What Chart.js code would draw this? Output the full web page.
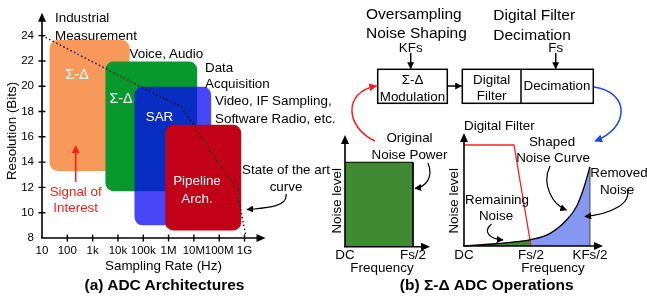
<!DOCTYPE html>
<html>
<head>
<meta charset="utf-8">
<script src="https://cdn.jsdelivr.net/npm/chart.js@4/dist/chart.umd.min.js"></script>
<style>
body { margin: 0; background: #fff; }
#wrap { position: relative; width: 647px; height: 298px; overflow: hidden; }
canvas { position: absolute; }
svg { position: absolute; left: 0; top: 0; font-family: "Liberation Sans", Arial, sans-serif; }
</style>
</head>
<body>
<div id="wrap">
<canvas id="archChart" width="330" height="298" style="left:0;top:0"></canvas>
<canvas id="flatChart" width="110" height="178" style="left:330px;top:120px"></canvas>
<canvas id="shapedChart" width="202" height="178" style="left:445px;top:120px"></canvas>
<svg width="647" height="298">
  <defs>
    <marker id="hk" viewBox="0 0 10 10" refX="9" refY="5" markerUnits="userSpaceOnUse" markerWidth="7" markerHeight="7" orient="auto"><path d="M0,0 L10,5 L0,10 z" fill="#000"/></marker>
    <marker id="hr" viewBox="0 0 10 10" refX="9" refY="5" markerUnits="userSpaceOnUse" markerWidth="8" markerHeight="8" orient="auto"><path d="M0,0 L10,5 L0,10 z" fill="#ff1a1a"/></marker>
    <marker id="hb" viewBox="0 0 10 10" refX="9" refY="5" markerUnits="userSpaceOnUse" markerWidth="8" markerHeight="8" orient="auto"><path d="M0,0 L10,5 L0,10 z" fill="#1a44ff"/></marker>
  </defs>
  <g font-size="13.4" dominant-baseline="central" fill="#000">
    <!-- (a) labels -->
    <text x="55" y="17">Industrial</text>
    <text x="55" y="35">Measurement</text>
    <text x="129.5" y="53">Voice, Audio</text>
    <text x="205" y="67">Data</text>
    <text x="205" y="83.5">Acquisition</text>
    <text x="215" y="100.5">Video, IF Sampling,</text>
    <text x="215" y="118">Software Radio, etc.</text>
    <text x="286" y="169" text-anchor="middle">State of the art</text>
    <text x="286" y="186" text-anchor="middle">curve</text>
    <text x="77" y="73.5" text-anchor="middle" fill="#fff" font-size="14.5">Σ-Δ</text>
    <text x="121" y="98" text-anchor="middle" fill="#fff" font-size="14.5">Σ-Δ</text>
    <text x="159.5" y="116" text-anchor="middle" fill="#fff">SAR</text>
    <text x="197" y="180" text-anchor="middle" fill="#fff">Pipeline</text>
    <text x="197" y="198" text-anchor="middle" fill="#fff">Arch.</text>
    <text x="75.7" y="191.7" text-anchor="middle" fill="#ff1a1a">Signal of</text>
    <text x="75.7" y="207.5" text-anchor="middle" fill="#ff1a1a">Interest</text>
    <text x="164.5" y="284" text-anchor="middle" font-weight="bold" font-size="15.5">(a) ADC Architectures</text>
    <!-- (b) labels -->
    <text x="366" y="13.5" font-size="15.5">Oversampling</text>
    <text x="366" y="32.5" font-size="15.5">Noise Shaping</text>
    <text x="493.3" y="14" font-size="15.5">Digital Filter</text>
    <text x="493.3" y="34" font-size="15.5">Decimation</text>
    <text x="410.7" y="47" text-anchor="middle">KFs</text>
    <text x="555.7" y="47" text-anchor="middle">Fs</text>
    <text x="412.5" y="79" text-anchor="middle">Σ-Δ</text>
    <text x="412.5" y="96" text-anchor="middle">Modulation</text>
    <text x="491.7" y="79" text-anchor="middle">Digital</text>
    <text x="491.7" y="95.5" text-anchor="middle">Filter</text>
    <text x="557" y="85" text-anchor="middle">Decimation</text>
    <text x="409.5" y="137" text-anchor="middle">Original</text>
    <text x="409.5" y="154.3" text-anchor="middle">Noise Power</text>
    <text x="464" y="125">Digital Filter</text>
    <text x="552" y="141" text-anchor="middle">Shaped</text>
    <text x="553" y="157" text-anchor="middle">Noise Curve</text>
    <text x="619" y="172" text-anchor="middle">Removed</text>
    <text x="617" y="189" text-anchor="middle">Noise</text>
    <text x="497" y="199" text-anchor="middle">Remaining</text>
    <text x="496" y="215" text-anchor="middle">Noise</text>
    <text x="486.7" y="284" text-anchor="middle" font-weight="bold" font-size="15.5">(b) Σ-Δ ADC Operations</text>
  </g>
  <g fill="none" stroke="#000" stroke-width="1.5">
    <rect x="377.7" y="69.3" width="69.6" height="34" fill="#fff"/>
    <rect x="462.3" y="69.3" width="131" height="34" fill="#fff"/>
    <line x1="521" y1="69.3" x2="521" y2="103.3"/>
  </g>
  <!-- redraw block texts over the boxes -->
  <g font-size="13.4" dominant-baseline="central" fill="#000" text-anchor="middle">
    <text x="412.5" y="79">Σ-Δ</text>
    <text x="412.5" y="96">Modulation</text>
    <text x="491.7" y="79">Digital</text>
    <text x="491.7" y="95.5">Filter</text>
    <text x="557" y="85">Decimation</text>
  </g>
  <g fill="none" stroke="#000" stroke-width="1.5">
    <path d="M447.5,86 L461.5,86" marker-end="url(#hk)"/>
    <path d="M410.7,53 L410.7,68.5" marker-end="url(#hk)"/>
    <path d="M555.7,53 L555.7,68.5" marker-end="url(#hk)"/>
    <path d="M375,141 C346,128 342,92 376.5,86" stroke="#ff1a1a" marker-end="url(#hr)"/>
    <path d="M594,87 C630,92 630,128 595,141" stroke="#1a44ff" marker-end="url(#hb)"/>
    <path d="M75.7,182 L75.7,146" stroke="#ff1a1a" marker-end="url(#hr)"/>
    <path d="M286,194 C288,206 270,208 247,209.5" stroke-width="1.2" marker-end="url(#hk)"/>
    <path d="M428,163 C434,178 425,187 415,188.5" stroke-width="1.2" marker-end="url(#hk)"/>
    <path d="M550,166 C541,185 553,205 566.5,210" stroke-width="1.2" marker-end="url(#hk)"/>
    <path d="M627,189 C632,203 612,214 585,216.5" stroke-width="1.2" marker-end="url(#hk)"/>
    <path d="M491.5,224 C482,232 490,239 503,240" stroke-width="1.2" marker-end="url(#hk)"/>
  </g>
</svg>
</div>
<script>
// (a) ADC architectures: sampling-rate range (Hz) and resolution range (bits)
const archNames = ['Sigma-Delta (low rate)', 'Sigma-Delta', 'SAR', 'Pipeline'];
const archRateLo = [20, 3.2e3, 45e3, 740e3];
const archRateHi = [29e3, 13.5e6, 48e6, 740e6];
const archBitsLo = [13.3, 11.7, 9.0, 8.6];
const archBitsHi = [23.65, 21.95, 19.95, 16.95];
const archColors = ['#f8985a', '#07992b', 'rgba(10,10,245,0.75)', '#c20018'];

// state of the art curve
const sotaRate = [10, 1.05e5, 3.4e6, 48e6, 480e6, 1.1e9];
const sotaBits = [24, 19.83, 18.33, 14.82, 11.93, 8.3];

const rateTicks = [10, 100, 1e3, 1e4, 1e5, 1e6, 1e7, 1e8, 1e9];
const rateTickLabels = ['10', '100', '1k', '10k', '100k', '1M', '10M', '100M', '1G'];
const bitsTicks = [8, 10, 12, 14, 16, 18, 20, 22, 24];

// (b) original flat noise (DC .. Fs/2)
const flatFreq = [0, 1, 1];
const flatLevel = [0.756, 0.756, 0];
const flatTicks = [0, 1];
const flatTickLabels = ['DC', 'Fs/2'];

// (b) shaped noise and digital filter (frequency in units of Fs/2)
const noiseFreq = [0, 0.5, 1.0, 1.28, 1.53, 1.68, 1.78, 1.88];
const noiseLevel = [0, 0.022, 0.057, 0.11, 0.23, 0.35, 0.5, 0.7];
const filterFreq = [0, 0.746, 1.0];
const filterGain = [0.894, 0.894, 0];
const shapedTicks = [0, 1, 1.88];
const shapedTickLabels = ['DC', 'Fs/2', 'KFs/2'];

Chart.defaults.color = '#000';
Chart.defaults.font.family = '"Liberation Sans", Arial, sans-serif';

const pts = (xs, ys) => xs.map((v, i) => ({x: v, y: ys[i]}));

const arrowAxes = {
  id: 'arrowAxes',
  afterDatasetsDraw(chart, args, opts) {
    const {ctx, chartArea: a, scales: {x, y}} = chart;
    const x0 = a.left, y0 = a.bottom;
    const xe = x.getPixelForValue(opts.xEnd);
    const ye = y.getPixelForValue(opts.yEnd);
    ctx.save();
    ctx.strokeStyle = '#000';
    ctx.fillStyle = '#000';
    ctx.lineWidth = 1.6;
    ctx.beginPath();
    ctx.moveTo(x0 - 1, y0); ctx.lineTo(xe - 6, y0);
    ctx.moveTo(x0, y0); ctx.lineTo(x0, ye + 6);
    ctx.stroke();
    ctx.beginPath();
    ctx.moveTo(xe, y0); ctx.lineTo(xe - 9, y0 - 4); ctx.lineTo(xe - 9, y0 + 4); ctx.closePath();
    ctx.moveTo(x0, ye); ctx.lineTo(x0 - 4, ye + 9); ctx.lineTo(x0 + 4, ye + 9); ctx.closePath();
    ctx.fill();
    if (opts.crossTicks) {
      ctx.lineWidth = 1.4;
      ctx.beginPath();
      x.ticks.forEach((t, i) => {
        if (i === 0) return;
        const p = x.getPixelForValue(t.value);
        ctx.moveTo(p, y0 - 3.5); ctx.lineTo(p, y0 + 3.5);
      });
      y.ticks.forEach((t, i) => {
        if (i === 0) return;
        const p = y.getPixelForValue(t.value);
        ctx.moveTo(x0 - 3.5, p); ctx.lineTo(x0 + 3.5, p);
      });
      ctx.stroke();
    }
    ctx.restore();
  }
};

const archBoxes = {
  id: 'archBoxes',
  beforeDatasetsDraw(chart) {
    const {ctx, scales: {x, y}} = chart;
    ctx.save();
    archNames.forEach((n, i) => {
      const l = x.getPixelForValue(archRateLo[i]);
      const r = x.getPixelForValue(archRateHi[i]);
      const t = y.getPixelForValue(archBitsHi[i]);
      const b = y.getPixelForValue(archBitsLo[i]);
      ctx.fillStyle = archColors[i];
      ctx.beginPath();
      ctx.roundRect(l, t, r - l, b - t, 8);
      ctx.fill();
    });
    ctx.restore();
  }
};

new Chart(document.getElementById('archChart'), {
  type: 'line',
  data: {
    datasets: [{
      label: 'State of the art',
      data: pts(sotaRate, sotaBits),
      borderColor: '#000',
      borderWidth: 1.3,
      borderDash: [1.5, 2.5],
      pointRadius: 0,
      fill: false,
      tension: 0,
      clip: false
    }]
  },
  options: {
    animation: false,
    responsive: false,
    devicePixelRatio: 1,
    layout: {padding: {top: 24, right: 45, left: 0, bottom: 0}},
    plugins: {
      legend: {display: false},
      tooltip: {enabled: false},
      arrowAxes: {xEnd: Math.pow(10, 9.83), yEnd: 25.8, crossTicks: true}
    },
    scales: {
      x: {
        type: 'logarithmic',
        min: 10,
        max: Math.pow(10, 10.6),
        grid: {display: false, drawTicks: false},
        border: {display: false},
        afterBuildTicks: s => { s.ticks = rateTicks.map(v => ({value: v})); },
        afterFit: s => { s.height = 60; },
        ticks: {autoSkip: false, maxRotation: 0, padding: 6, font: {size: 11.5},
          callback: (v, i) => rateTickLabels[i]},
        title: {display: true, text: 'Sampling Rate (Hz)', font: {size: 13.4}, padding: {top: 0, bottom: 24}}
      },
      y: {
        type: 'linear',
        min: 8,
        max: 24.92,
        grid: {display: false, drawTicks: false},
        border: {display: false},
        afterBuildTicks: s => { s.ticks = bitsTicks.map(v => ({value: v})); },
        afterFit: s => { s.width = 42; },
        ticks: {padding: 8, font: {size: 11.5}},
        title: {display: true, text: 'Resolution (Bits)', font: {size: 13.4}, padding: {top: 4, bottom: 0}}
      }
    }
  },
  plugins: [archBoxes, arrowAxes]
});

new Chart(document.getElementById('flatChart'), {
  type: 'line',
  data: {
    datasets: [{
      label: 'Original noise',
      data: pts(flatFreq, flatLevel),
      borderColor: '#000',
      borderWidth: 1,
      backgroundColor: '#418a34',
      fill: 'origin',
      pointRadius: 0,
      tension: 0,
      clip: false
    }]
  },
  options: {
    animation: false,
    responsive: false,
    devicePixelRatio: 1,
    layout: {padding: {top: 35, right: 21, left: 0, bottom: 0}},
    plugins: {
      legend: {display: false},
      tooltip: {enabled: false},
      arrowAxes: {xEnd: 1.25, yEnd: 1}
    },
    scales: {
      x: {
        type: 'linear', min: 0, max: 1.088,
        grid: {display: false, drawTicks: false},
        border: {display: false},
        afterBuildTicks: s => { s.ticks = flatTicks.map(v => ({value: v})); },
        afterFit: s => { s.height = 51.3; },
        ticks: {autoSkip: false, maxRotation: 0, padding: 1, font: {size: 13.4},
          callback: (v, i) => flatTickLabels[i]},
        title: {display: true, text: 'Frequency', font: {size: 13.4}, padding: {top: 0, bottom: 22}}
      },
      y: {
        type: 'linear', min: 0, max: 0.821,
        grid: {display: false, drawTicks: false},
        border: {display: false},
        ticks: {display: false},
        afterFit: s => { s.width = 15; },
        title: {display: true, text: 'Noise level', font: {size: 13.4}, padding: {top: -0.5, bottom: 0}}
      }
    }
  },
  plugins: [arrowAxes]
});

const lowIdx = noiseFreq.map((f, i) => i).filter(i => noiseFreq[i] <= 1);
const highIdx = noiseFreq.map((f, i) => i).filter(i => noiseFreq[i] >= 1);
const last = noiseFreq.length - 1;

new Chart(document.getElementById('shapedChart'), {
  type: 'line',
  data: {
    datasets: [
      {
        label: 'Shaped noise curve',
        data: pts(noiseFreq, noiseLevel),
        borderColor: '#000', borderWidth: 1.3, fill: false,
        pointRadius: 0, cubicInterpolationMode: 'monotone', clip: false, order: 0
      },
      {
        label: 'Digital filter',
        data: pts(filterFreq, filterGain),
        borderColor: '#ff2020', borderWidth: 1.3, fill: false,
        pointRadius: 0, tension: 0, clip: false, order: 1
      },
      {
        label: 'Removed edge',
        data: pts([noiseFreq[last], noiseFreq[last]], [0, noiseLevel[last]]),
        borderColor: '#444', borderWidth: 1, fill: false,
        pointRadius: 0, tension: 0, clip: false, order: 2
      },
      {
        label: 'Remaining noise',
        data: lowIdx.map(i => ({x: noiseFreq[i], y: noiseLevel[i]})),
        borderWidth: 0, backgroundColor: '#418a34', fill: 'origin',
        pointRadius: 0, cubicInterpolationMode: 'monotone', clip: false, order: 3
      },
      {
        label: 'Removed noise',
        data: highIdx.map(i => ({x: noiseFreq[i], y: noiseLevel[i]})),
        borderWidth: 0, backgroundColor: '#8497f2', fill: 'origin',
        pointRadius: 0, cubicInterpolationMode: 'monotone', clip: false, order: 4
      }
    ]
  },
  options: {
    animation: false,
    responsive: false,
    devicePixelRatio: 1,
    layout: {padding: {top: 35.6, right: 5, left: 0, bottom: 0}},
    plugins: {
      legend: {display: false},
      tooltip: {enabled: false},
      arrowAxes: {xEnd: 2.075, yEnd: 1}
    },
    scales: {
      x: {
        type: 'linear', min: 0, max: 2.657,
        grid: {display: false, drawTicks: false},
        border: {display: false},
        afterBuildTicks: s => { s.ticks = shapedTicks.map(v => ({value: v})); },
        afterFit: s => { s.height = 52; },
        ticks: {autoSkip: false, maxRotation: 0, padding: 1, font: {size: 13.4},
          callback: (v, i) => shapedTickLabels[i]},
        title: {display: true, text: 'Frequency', font: {size: 13.4}, padding: {top: 0, bottom: 22}}
      },
      y: {
        type: 'linear', min: 0, max: 0.8,
        grid: {display: false, drawTicks: false},
        border: {display: false},
        ticks: {display: false},
        afterFit: s => { s.width = 19; },
        title: {display: true, text: 'Noise level', font: {size: 13.4}, padding: {top: 1.2, bottom: 0}}
      }
    }
  },
  plugins: [arrowAxes]
});
</script>
</body>
</html>
